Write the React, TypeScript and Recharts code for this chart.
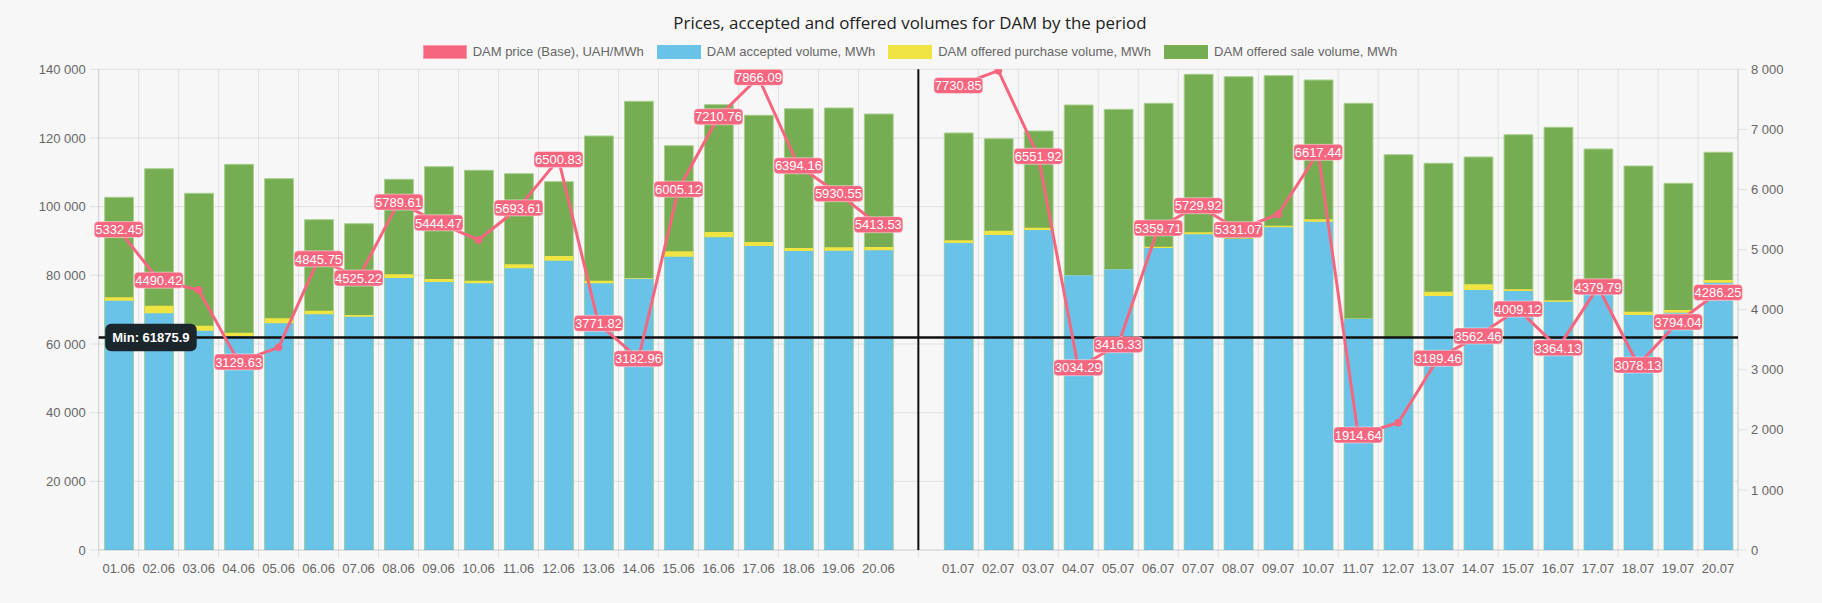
import React from 'react';
import {
  ComposedChart,
  Bar,
  Line,
  XAxis,
  YAxis,
  CartesianGrid,
  ReferenceLine,
  LabelList,
  Legend,
} from 'recharts';

const GAP = ' ';

const dates = [
  '01.06', '02.06', '03.06', '04.06', '05.06', '06.06', '07.06', '08.06', '09.06', '10.06',
  '11.06', '12.06', '13.06', '14.06', '15.06', '16.06', '17.06', '18.06', '19.06', '20.06',
  GAP,
  '01.07', '02.07', '03.07', '04.07', '05.07', '06.07', '07.07', '08.07', '09.07', '10.07',
  '11.07', '12.07', '13.07', '14.07', '15.07', '16.07', '17.07', '18.07', '19.07', '20.07',
];

const price = [
  5332.45, 4490.42, 4326.8, 3129.63, 3372.9, 4845.75, 4525.22, 5789.61, 5444.47, 5159.3,
  5693.61, 6500.83, 3771.82, 3182.96, 6005.12, 7210.76, 7866.09, 6394.16, 5930.55, 5413.53,
  null,
  7730.85, 7976.5, 6551.92, 3034.29, 3416.33, 5359.71, 5729.92, 5331.07, 5587.2, 6617.44,
  1914.64, 2118.7, 3189.46, 3562.46, 4009.12, 3364.13, 4379.79, 3078.13, 3794.04, 4286.25,
];

const accepted = [
  72610, 68930, 63880, 62330, 66020, 68640, 67950, 79220, 78050, 77670,
  82030, 84260, 77660, 79020, 85430, 91060, 88540, 87080, 87180, 87280,
  null,
  89410, 91740, 93200, 80000, 81750, 87950, 91940, 90580, 93980, 95630,
  67370, 61875.9, 73970, 75720, 75430, 72320, 75500, 68440, 69120, 77860,
];

const purchase = [
  73590, 71150, 65330, 63290, 67470, 69700, 68440, 80290, 78930, 78440,
  83200, 85630, 78440, 79200, 86990, 92610, 89700, 87950, 88150, 88240,
  null,
  90190, 93000, 93870, 80100, 81850, 88340, 92520, 90700, 94450, 96310,
  67450, 61950, 75230, 77380, 75920, 72720, 75800, 69410, 69900, 78630,
];

const sale = [
  102720, 111050, 103880, 112320, 108150, 96200, 95030, 107960, 111630, 110580,
  109600, 107270, 120570, 130670, 117750, 129700, 126600, 128520, 128730, 126980,
  null,
  121450, 119790, 122030, 129600, 128340, 130090, 138540, 137850, 138140, 136880,
  130090, 115130, 112620, 114460, 120950, 123100, 116790, 111840, 106790, 115830,
];

// price labels that are not displayed in the reference (overlap-hidden)
const hiddenPriceLabels = ['03.06', '05.06', '10.06', '02.07', '09.07', '12.07'];

const leftTicks = [0, 20000, 40000, 60000, 80000, 100000, 120000, 140000];
const rightTicks = [0, 1000, 2000, 3000, 4000, 5000, 6000, 7000, 8000];

const TITLE = 'Prices, accepted and offered volumes for DAM by the period';
const SERIES_NAMES = {
  price: 'DAM price (Base), UAH/MWh',
  accepted: 'DAM accepted volume, MWh',
  purchase: 'DAM offered purchase volume, MWh',
  sale: 'DAM offered sale volume, MWh',
};

const PINK = '#f7667f';
const BLUE = '#69c3e8';
const YELLOW = '#f0e443';
const GREEN = '#77ad52';
const GRID = 'rgba(0,0,0,0.09)';
const TEXT = '#666';
const FONT = "'Liberation Sans', Arial, Helvetica, sans-serif";
const TITLE_FONT = "'Open Sans', 'Noto Sans', sans-serif";
const BAR = 28.8;

const data = dates.map((d, i) => ({
  date: d,
  price: price[i],
  accepted: accepted[i],
  purchase: purchase[i],
  sale: sale[i],
}));

const minAccepted = Math.min(...(accepted.filter((v) => v != null) as number[]));

const fmtThousands = (v: number) => String(v).replace(/\B(?=(\d{3})+(?!\d))/g, ' ');

const textWidth = (s: string, size: number) => {
  let w = 0;
  for (const ch of s) {
    if (ch === '.' || ch === ' ' || ch === ':') w += 0.278;
    else w += 0.556;
  }
  return w * size;
};

const gapIndex = dates.indexOf(GAP);

const vGen = (args: any) => {
  const offset = args && args.offset;
  let left: number;
  let bw: number;
  if (offset && typeof offset.left === 'number' && typeof offset.width === 'number') {
    left = offset.left;
    bw = offset.width / dates.length;
  } else {
    const scale = args.xAxis.scale;
    left = scale(dates[0]);
    bw = scale.bandwidth();
  }
  const res: number[] = [];
  for (let i = 0; i <= dates.length; i++) {
    if (i === gapIndex || i === gapIndex + 1) continue;
    res.push(left + i * bw);
  }
  res.push(left + (gapIndex + 0.5) * bw);
  return res;
};

const XTick = (props: any) => {
  const { x, y, payload, index, width, visibleTicksCount } = props;
  const n = visibleTicksCount || dates.length;
  const half =
    payload && typeof payload.offset === 'number' && payload.offset > 0
      ? payload.offset
      : width / n / 2;
  const value = payload.value;
  const marks: number[] = [];
  if (value === GAP) {
    marks.push(x);
  } else {
    if (index !== gapIndex + 1) marks.push(x - half);
    if (index === dates.length - 1) marks.push(x + half);
  }
  return (
    <g>
      {marks.map((mx, k) => (
        <line key={k} x1={mx} x2={mx} y1={y} y2={y + 8} stroke={GRID} strokeWidth={1} />
      ))}
      <text
        x={x}
        y={y + 14}
        dy="0.71em"
        textAnchor="middle"
        fill={TEXT}
        fontSize={13}
        fontFamily={FONT}
      >
        {value}
      </text>
    </g>
  );
};

const PriceLabel = (props: any) => {
  const { x, y, value, index } = props;
  if (value == null || x == null || y == null) return null;
  if (index != null && hiddenPriceLabels.includes(dates[index])) return null;
  const text = Number(value).toFixed(2);
  const w = textWidth(text, 13) + 2;
  const h = 16;
  return (
    <g>
      <rect
        x={x - w / 2}
        y={y - h / 2}
        width={w}
        height={h}
        rx={4}
        ry={4}
        fill={PINK}
        stroke="rgba(255,255,255,0.45)"
        strokeWidth={1}
      />
      <text
        x={x}
        y={y}
        dy="0.36em"
        textAnchor="middle"
        fill="#fff"
        fontSize={13}
        fontFamily={FONT}
      >
        {text}
      </text>
    </g>
  );
};

const MinLabel = (props: any) => {
  const vb = props.viewBox || {};
  const text = `Min: ${minAccepted}`;
  const w = 91.5;
  const h = 27.5;
  const x0 = vb.x + 6.5;
  return (
    <g>
      <rect x={x0} y={vb.y - h / 2} width={w} height={h} rx={6} ry={6} fill="#1b262c" />
      <text
        x={x0 + w / 2}
        y={vb.y}
        dy="0.36em"
        textAnchor="middle"
        fill="#fff"
        fontSize={13}
        fontWeight="bold"
        fontFamily={FONT}
      >
        {text}
      </text>
    </g>
  );
};

const legendItems = [
  { key: 'price', color: PINK, border: '#fb9aab' },
  { key: 'accepted', color: BLUE, border: BLUE },
  { key: 'purchase', color: YELLOW, border: YELLOW },
  { key: 'sale', color: GREEN, border: GREEN },
];

const LegendContent = () => (
  <div
    style={{
      display: 'flex',
      justifyContent: 'center',
      alignItems: 'center',
      columnGap: 13,
      fontFamily: FONT,
      fontSize: 13,
      color: TEXT,
      width: '100%',
      paddingLeft: 0,
    }}
  >
    {legendItems.map((it) => (
      <div key={it.key} style={{ display: 'flex', alignItems: 'center' }}>
        <span
          style={{
            display: 'inline-block',
            width: 44,
            minWidth: 44,
            height: 14,
            boxSizing: 'border-box',
            background: it.color,
            border: `1px solid ${it.border}`,
            marginRight: 6,
            flexShrink: 0,
          }}
        />
        <span style={{ whiteSpace: 'nowrap', lineHeight: '16px' }}>
          {(SERIES_NAMES as any)[it.key]}
        </span>
      </div>
    ))}
  </div>
);

export default function App() {
  return (
    <div
      style={{
        position: 'relative',
        width: 1822,
        height: 603,
        background: '#f7f7f7',
        fontFamily: FONT,
      }}
    >
      <style>{`body{margin:0;background:#f7f7f7;}`}</style>
      <div
        style={{
          position: 'absolute',
          top: 12,
          left: 0,
          width: 1820,
          textAlign: 'center',
          fontSize: 16.9,
          lineHeight: '22px',
          color: '#222',
          fontFamily: TITLE_FONT,
          zIndex: 2,
        }}
      >
        {TITLE}
      </div>
      <ComposedChart
        width={1822}
        height={603}
        data={data}
        margin={{ top: 69.3, right: 0, bottom: 0, left: 0 }}
        barSize={BAR}
        barGap={-BAR}
        style={{ fontFamily: FONT }}
      >
        <CartesianGrid
          yAxisId="left"
          stroke={GRID}
          strokeWidth={1}
          verticalCoordinatesGenerator={vGen}
        />
        <XAxis
          dataKey="date"
          interval={0}
          height={53}
          tickLine={false}
          tickSize={0}
          tickMargin={0}
          axisLine={{ stroke: GRID }}
          tick={<XTick />}
        />
        <YAxis
          yAxisId="left"
          domain={[0, 140000]}
          ticks={leftTicks}
          width={98.7}
          tickSize={9}
          tickMargin={4}
          tick={{ fill: TEXT, fontSize: 13, fontFamily: FONT }}
          tickFormatter={fmtThousands}
          axisLine={{ stroke: GRID }}
          tickLine={{ stroke: GRID }}
          allowDataOverflow
        />
        <YAxis
          yAxisId="right"
          orientation="right"
          domain={[0, 8000]}
          ticks={rightTicks}
          width={84}
          tickSize={9}
          tickMargin={4}
          tick={{ fill: TEXT, fontSize: 13, fontFamily: FONT }}
          tickFormatter={fmtThousands}
          axisLine={{ stroke: GRID }}
          tickLine={{ stroke: GRID }}
          allowDataOverflow
        />
        <Bar
          yAxisId="left"
          dataKey="sale"
          name={SERIES_NAMES.sale}
          fill={GREEN}
          stroke="#a6cf8c"
          strokeWidth={1}
          isAnimationActive={false}
        />
        <Bar
          yAxisId="left"
          dataKey="purchase"
          name={SERIES_NAMES.purchase}
          fill={YELLOW}
          isAnimationActive={false}
        />
        <Bar
          yAxisId="left"
          dataKey="accepted"
          name={SERIES_NAMES.accepted}
          fill={BLUE}
          isAnimationActive={false}
        />
        <ReferenceLine yAxisId="left" x={GAP} stroke="#111" strokeWidth={2} />
        <ReferenceLine
          yAxisId="left"
          y={minAccepted}
          stroke="#111"
          strokeWidth={2.5}
          label={MinLabel}
        />
        <Line
          yAxisId="right"
          type="linear"
          dataKey="price"
          name={SERIES_NAMES.price}
          stroke={PINK}
          strokeWidth={3}
          dot={{ r: 3.5, fill: PINK, stroke: PINK, strokeWidth: 1 }}
          connectNulls={false}
          isAnimationActive={false}
        >
          <LabelList dataKey="price" content={PriceLabel} />
        </Line>
        <Legend
          verticalAlign="middle"
          align="center"
          layout="horizontal"
          wrapperStyle={{ top: 44, left: 0, width: 1820, height: 16 }}
          content={() => <LegendContent />}
        />
      </ComposedChart>
    </div>
  );
}
